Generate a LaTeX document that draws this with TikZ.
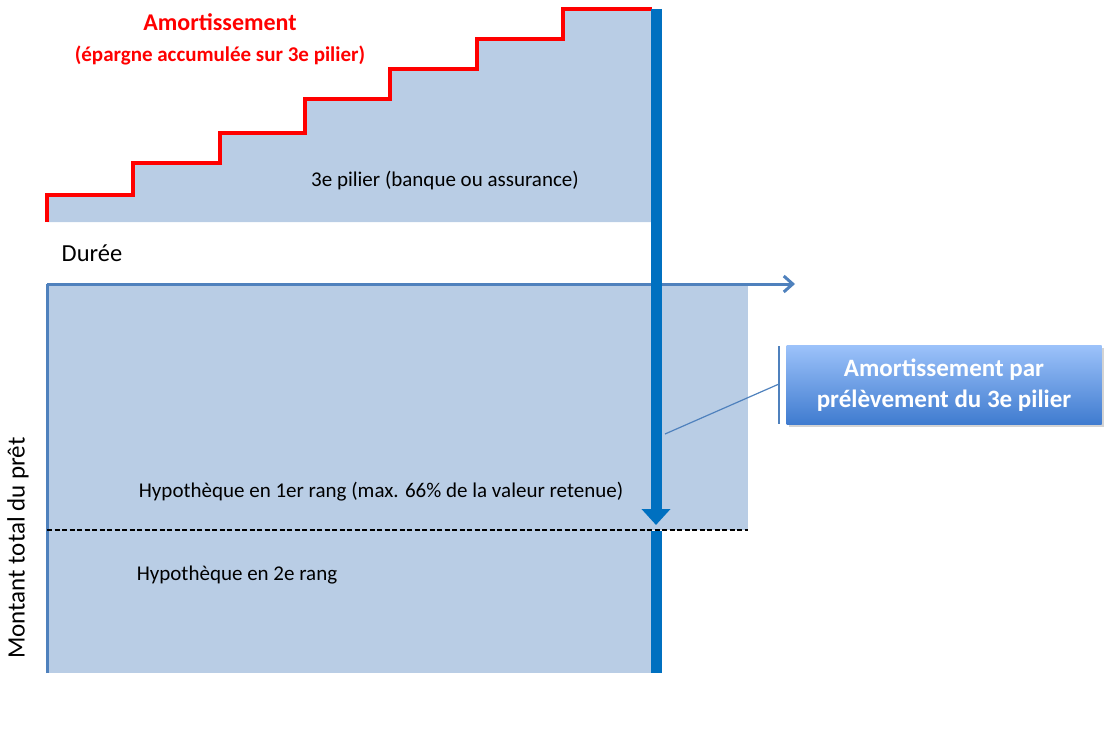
\documentclass[tikz,border=0pt]{standalone}
\usepackage{fontspec}
\setmainfont{Carlito}
\usetikzlibrary{arrows.meta,positioning,shadows}

\definecolor{fillblue}{HTML}{B9CDE5}
\definecolor{axisblue}{HTML}{4F81BD}
\definecolor{barblue}{HTML}{0070C0}
\definecolor{boxtop}{HTML}{9CC2FA}
\definecolor{boxbot}{HTML}{3F7BCF}

\tikzset{
  area/.style={fill=fillblue, draw=none},
  axis line/.style={draw=axisblue, line width=3pt},
  stair line/.style={draw=red, line width=4pt},
  label text/.style={font=\fontsize{21}{25}\selectfont, anchor=center},
  callout box/.style={draw=none, top color=boxtop, bottom color=boxbot,
    drop shadow={opacity=0.35}, minimum width=315pt, minimum height=79pt,
    text=white, align=center, font=\bfseries\fontsize{25}{31}\selectfont}
}

\begin{document}
\begin{tikzpicture}[x=1pt, y=-1pt]
  \useasboundingbox (0,0) rectangle (1110,738);
  % filled areas
  \fill[area] (47,222) -- (47,195) -- (133,195) -- (133,163) -- (220,163) -- (220,133)
    -- (305,133) -- (305,99) -- (390,99) -- (390,69) -- (477,69) -- (477,39)
    -- (563,39) -- (563,9) -- (652,9) -- (652,222) -- cycle;
  \fill[area] (47,284) rectangle (748,530);
  \fill[area] (47,530) rectangle (652,673);
  % staircase
  \draw[stair line] (47,222) -- (47,195) -- (133,195) -- (133,163) -- (220,163) -- (220,133)
    -- (305,133) -- (305,99) -- (390,99) -- (390,69) -- (477,69) -- (477,39)
    -- (563,39) -- (563,9) -- (652,9);
  % axes
  \coordinate (origin) at (47,673);
  \coordinate (corner) at (47,284);
  \coordinate (xend) at (795,284);
  \draw[axis line] (origin) -- (corner);
  \draw[axis line, -{Straight Barb[length=9pt, width=16pt]}] (corner) -- (xend);
  \draw[dashed, line width=1.3pt, dash pattern=on 5pt off 2.5pt] (47,530) -- (748,530);
  % thick bar
  \coordinate (bartop) at (656,9);
  \coordinate (barhead) at (656,525);
  \coordinate (barmid) at (656,531);
  \coordinate (barbot) at (656,673);
  \draw[barblue, line width=11pt, -{Triangle[length=16pt, width=28pt]}] (bartop) -- (barhead);
  \draw[barblue, line width=11pt] (barmid) -- (barbot);
  % texts
  \node[text=red, font=\bfseries\fontsize{24}{28}\selectfont] (title) at (220,22) {Amortissement};
  \node[text=red, font=\bfseries\fontsize{21}{25}\selectfont] (subtitle) at (220,55) {(épargne accumulée sur 3e pilier)};
  \node[label text] (pilier) at (445,181) {3e pilier (banque ou assurance)};
  \node[font=\fontsize{24.5}{28}\selectfont] (duree) at (92,253) {Durée};
  \node[label text] (rang1) at (381,492) {Hypothèque en 1er rang (max. 66\% de la valeur retenue)};
  \node[label text] (rang2) at (237,575) {Hypothèque en 2e rang};
  \node[font=\fontsize{25}{29}\selectfont, rotate=90] (montant) at (18,548) {Montant total du prêt};
  % callout
  \node[callout box] (callout) at (944,385) {Amortissement par\\prélèvement du 3e pilier};
  \coordinate (brtop) at (779,346);
  \coordinate (brbot) at (779,424);
  \coordinate (brmid) at (779,384);
  \coordinate (tip) at (665,434);
  \draw[axisblue, line width=1.2pt] (brtop) -- (brbot);
  \draw[axisblue, line width=1.2pt] (brmid) -- (tip);
\end{tikzpicture}
\end{document}
